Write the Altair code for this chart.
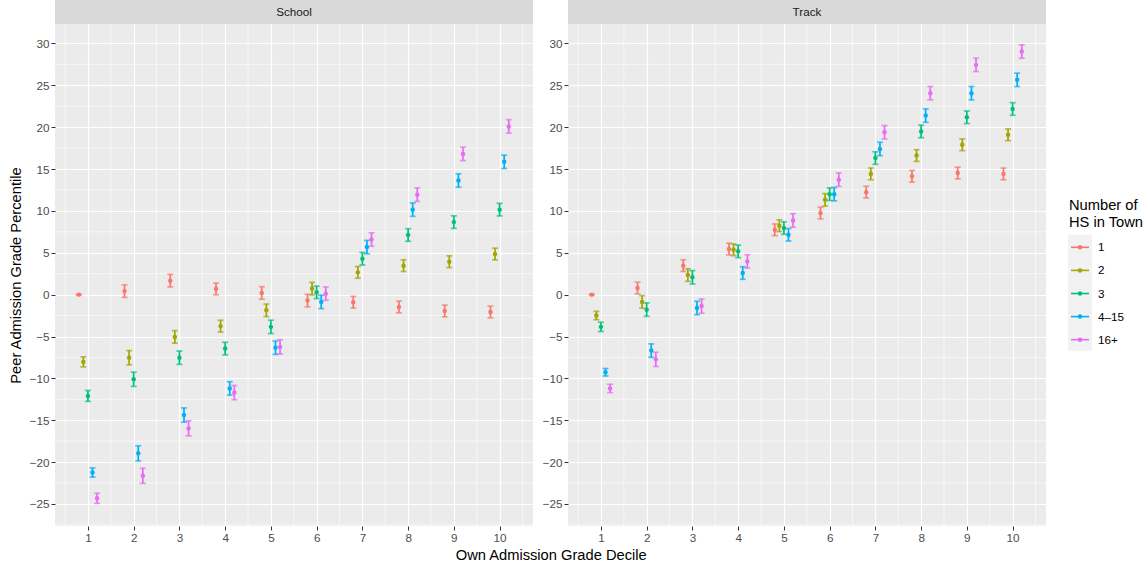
import altair as alt
import pandas as pd

deciles = [1, 2, 3, 4, 5, 6, 7, 8, 9, 10]
groups = ["1", "2", "3", "4–15", "16+"]
colors = ["#F8766D", "#A3A500", "#00BF7D", "#00B0F6", "#E76BF3"]
panels = ["School", "Track"]
dodge = [-0.2, -0.1, 0.0, 0.1, 0.2]

# School panel estimates, one list per group (deciles 1..10)
school_1 = [0.0, 0.42, 1.67, 0.68, 0.2, -0.71, -0.91, -1.47, -1.95, -2.07]
school_2 = [-8.03, -7.53, -5.05, -3.76, -1.87, 0.72, 2.66, 3.46, 3.93, 4.85]
school_3 = [-12.1, -10.11, -7.53, -6.44, -3.85, 0.28, 4.29, 7.12, 8.66, 10.15]
school_4 = [-21.24, -18.95, -14.38, -11.2, -6.34, -0.87, 5.68, 10.15, 13.63, 15.86]
school_5 = [-24.32, -21.64, -15.97, -11.7, -6.24, 0.12, 6.58, 11.94, 16.81, 20.09]
school_err_1 = [0.0, 0.75, 0.75, 0.7, 0.75, 0.75, 0.7, 0.7, 0.7, 0.7]
school_err_2 = [0.6, 0.85, 0.75, 0.7, 0.75, 0.75, 0.7, 0.7, 0.7, 0.7]
school_err_3 = [0.65, 0.85, 0.8, 0.75, 0.8, 0.75, 0.75, 0.75, 0.75, 0.75]
school_err_4 = [0.55, 0.9, 0.85, 0.8, 0.8, 0.8, 0.8, 0.8, 0.8, 0.8]
school_err_5 = [0.6, 0.9, 0.9, 0.85, 0.85, 0.8, 0.8, 0.8, 0.8, 0.8]

# Track panel estimates
track_1 = [0.0, 0.79, 3.46, 5.44, 7.75, 9.74, 12.24, 14.13, 14.52, 14.42]
track_2 = [-2.5, -0.87, 2.34, 5.36, 8.23, 11.32, 14.42, 16.61, 17.9, 19.09]
track_3 = [-3.85, -1.79, 2.07, 5.17, 7.95, 12.0, 16.31, 19.49, 21.18, 22.17]
track_4 = [-9.27, -6.68, -1.59, 2.58, 7.15, 12.0, 17.4, 21.38, 24.06, 25.65]
track_5 = [-11.2, -7.73, -1.37, 3.97, 8.86, 13.73, 19.39, 24.06, 27.44, 29.03]
track_err_1 = [0.0, 0.7, 0.7, 0.7, 0.7, 0.7, 0.7, 0.7, 0.7, 0.7]
track_err_2 = [0.5, 0.75, 0.75, 0.7, 0.7, 0.75, 0.7, 0.7, 0.7, 0.7]
track_err_3 = [0.55, 0.8, 0.8, 0.75, 0.75, 0.75, 0.75, 0.75, 0.75, 0.75]
track_err_4 = [0.45, 0.8, 0.8, 0.75, 0.75, 0.8, 0.8, 0.8, 0.8, 0.8]
track_err_5 = [0.5, 0.85, 0.85, 0.8, 0.8, 0.8, 0.8, 0.8, 0.8, 0.8]

y_ticks = [-25, -20, -15, -10, -5, 0, 5, 10, 15, 20, 25, 30]
x_minor = [0.5, 1.5, 2.5, 3.5, 4.5, 5.5, 6.5, 7.5, 8.5, 9.5, 10.5]
y_minor = [-27.5, -22.5, -17.5, -12.5, -7.5, -2.5, 2.5, 7.5, 12.5, 17.5, 22.5, 27.5]
legend_title = "Number of\nHS in Town"


def build(est_lists, err_lists):
    rows = []
    for gi, (g, est, err) in enumerate(zip(groups, est_lists, err_lists)):
        for d, e, s in zip(deciles, est, err):
            rows.append({"decile": d, "xpos": d + dodge[gi], "group": g,
                         "est": e, "lo": e - s, "hi": e + s})
    return pd.DataFrame(rows)


school_df = build([school_1, school_2, school_3, school_4, school_5],
                  [school_err_1, school_err_2, school_err_3, school_err_4, school_err_5])
track_df = build([track_1, track_2, track_3, track_4, track_5],
                 [track_err_1, track_err_2, track_err_3, track_err_4, track_err_5])

W, H = 478, 502
FONT = "Liberation Sans"
xscale = alt.Scale(domain=[0.28, 10.73], nice=False, zero=False)
yscale = alt.Scale(domain=[-27.63, 32.32], nice=False, zero=False)
cscale = alt.Scale(domain=groups, range=colors)
minus_expr = "datum.value < 0 ? '\u2212' + format(-datum.value, 'd') : datum.label"


def panel(name, df, ytitle):
    xax = alt.Axis(values=deciles, title=None, grid=True, labelPadding=2)
    if ytitle:
        yax = alt.Axis(values=y_ticks, title=ytitle, grid=True, labelExpr=minus_expr,
                       titlePadding=6)
    else:
        yax = alt.Axis(values=y_ticks, title=None, grid=True, labelExpr=minus_expr)
    base = alt.Chart(df)
    xenc = alt.X("xpos:Q", scale=xscale, axis=xax)
    col = alt.Color("group:N", scale=cscale, legend=None)

    minor_x = alt.Chart(pd.DataFrame({"v": x_minor})).mark_rule(
        color="white", strokeWidth=0.6).encode(x=alt.X("v:Q", scale=xscale))
    minor_y = alt.Chart(pd.DataFrame({"v": y_minor})).mark_rule(
        color="white", strokeWidth=0.6).encode(y=alt.Y("v:Q", scale=yscale))
    bars = base.mark_rule(strokeWidth=1.7).encode(
        x=xenc, y=alt.Y("lo:Q", scale=yscale, axis=yax), y2="hi:Q", color=col)
    cap_lo = base.mark_tick(orient="horizontal", size=6, thickness=1.7).encode(
        x=alt.X("xpos:Q", scale=xscale), y=alt.Y("lo:Q", scale=yscale), color=col)
    cap_hi = base.mark_tick(orient="horizontal", size=6, thickness=1.7).encode(
        x=alt.X("xpos:Q", scale=xscale), y=alt.Y("hi:Q", scale=yscale), color=col)
    pts = base.mark_circle(size=20, opacity=1).encode(
        x=alt.X("xpos:Q", scale=xscale), y=alt.Y("est:Q", scale=yscale), color=col)
    sdf = pd.DataFrame({"panel": [name]})
    strip = alt.Chart(sdf).mark_rect(color="#D9D9D9").encode(
        x=alt.value(0), x2=alt.value(W), y=alt.value(-24), y2=alt.value(0))
    strip_txt = alt.Chart(sdf).mark_text(fontSize=11.7, color="#1A1A1A", font=FONT).encode(
        x=alt.value(W / 2), y=alt.value(-12), text="panel:N")
    return alt.layer(minor_x, minor_y, bars, cap_lo, cap_hi, pts, strip, strip_txt).properties(
        width=W, height=H, view=alt.ViewBackground(fill="#EBEBEB", strokeWidth=0))


p1 = panel(panels[0], school_df, "Peer Admission Grade Percentile")
p2 = panel(panels[1], track_df, None)

ldf = pd.DataFrame({"group": groups})
ly = alt.Y("group:N", scale=alt.Scale(type="point", domain=groups, range=[223.3, 315.7], padding=0),
           axis=None)
lcol = alt.Color("group:N", scale=cscale, legend=None)
lbg = alt.Chart(pd.DataFrame({"t": [legend_title]})).mark_rect(color="#F2F2F2").encode(
    x=alt.value(11), x2=alt.value(35), y=alt.value(210.7), y2=alt.value(327.3))
lpad = alt.Chart(pd.DataFrame({"t": [legend_title]})).mark_rect(opacity=0).encode(
    x=alt.value(0), x2=alt.value(1), y=alt.value(-24), y2=alt.value(0))
ltitle = alt.Chart(pd.DataFrame({"t": [legend_title]})).mark_text(
    align="left", baseline="middle", fontSize=14.7, font=FONT, lineBreak="\n", lineHeight=17,
    color="black").encode(x=alt.value(12), y=alt.value(182), text="t:N")
lrule = alt.Chart(ldf).mark_rule(strokeWidth=1.6).encode(
    x=alt.value(14), x2=alt.value(32), y=ly, color=lcol)
lpt = alt.Chart(ldf).mark_circle(size=20, opacity=1).encode(
    x=alt.value(23), y=ly, color=lcol)
ltxt = alt.Chart(ldf).mark_text(align="left", baseline="middle", fontSize=11.7, font=FONT,
                                color="black").encode(x=alt.value(41), y=ly, text="group:N")
legend = alt.layer(lpad, lbg, ltitle, lrule, lpt, ltxt).properties(width=85, height=H)

panels_chart = alt.hconcat(p1, p2, spacing=8).properties(
    title=alt.TitleParams("Own Admission Grade Decile", orient="bottom", anchor="middle",
                          fontSize=14.7, fontWeight="normal", font=FONT, color="black",
                          offset=4, dx=24))

chart = alt.hconcat(panels_chart, legend, spacing=10).properties(
    padding={"left": 8, "top": 0, "right": 0, "bottom": 0}
).configure(font=FONT).configure_view(strokeWidth=0).configure_axis(
    domain=False, gridColor="white", gridWidth=1.2, tickColor="#333333", tickSize=4,
    tickWidth=1, labelColor="#4D4D4D", labelFontSize=11.7, labelFont=FONT,
    titleFont=FONT, titleFontSize=14.7, titleFontWeight="normal", titleColor="black"
).configure_concat(spacing=8)

chart.save("out.html", embed_options={"renderer": "svg", "actions": False})
